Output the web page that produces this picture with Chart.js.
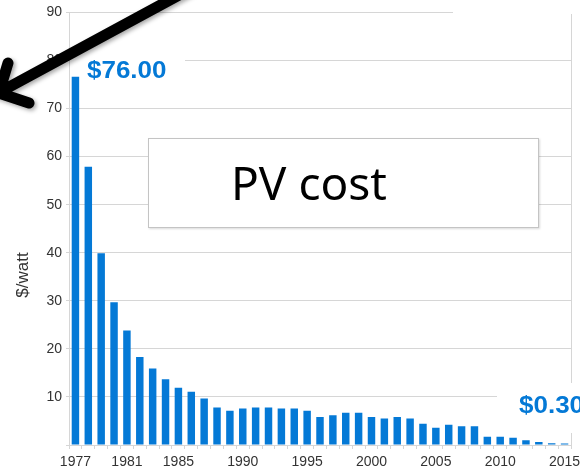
<!DOCTYPE html>
<html>
<head>
<meta charset="utf-8">
<script src="https://cdn.jsdelivr.net/npm/chart.js@4/dist/chart.umd.min.js"></script>
<style>
  html, body { margin: 0; padding: 0; background: #fff; }
  #wrap { width: 580px; height: 470px; position: relative; }
</style>
</head>
<body>
<div id="wrap"><canvas id="pv"></canvas></div>
<script>
// PV module cost, $/watt
const years = ['1977', '1978', '1979', '1980', '1981', '1982', '1983', '1984', '1985', '1986',
    '1987', '1988', '1989', '1990', '1991', '1992', '1993', '1994', '1995', '1996',
    '1997', '1998', '1999', '2000', '2001', '2002', '2003', '2004', '2005', '2006',
    '2007', '2008', '2009', '2010', '2011', '2012', '2013', '2014', '2015'];
const costs = [76.6, 57.9, 39.9, 29.7, 23.8, 18.3, 15.9, 13.7, 11.9, 11.1,
    9.7, 7.8, 7.1, 7.6, 7.8, 7.8, 7.6, 7.6, 7.1, 5.8,
    6.2, 6.7, 6.7, 5.8, 5.5, 5.8, 5.5, 4.4, 3.6, 4.2,
    3.9, 3.9, 1.7, 1.7, 1.5, 1.0, 0.6, 0.35, 0.3];
const shownYears = ['1977', '1981', '1985', '1990', '1995', '2000', '2005', '2010', '2015'];
const yTicks = [10, 20, 30, 40, 50, 60, 70, 80, 90];

const yTitle = '$/watt';
const firstLabel = '$76.00';
const lastLabel = '$0.30';
const boxTitle = 'PV cost';

const BLUE = '#0479d6';
const GRID = '#d6d6d6';
const FONT = '"Liberation Sans", Arial, sans-serif';

// extra drawing: axis title, right border, masks, label text, text box, arrow
const decorations = {
    id: 'decorations',
    afterDraw(chart) {
        const ctx = chart.ctx;
        const area = chart.chartArea;
        ctx.save();

        // y axis title
        ctx.save();
        ctx.translate(23, 275);
        ctx.rotate(-Math.PI / 2);
        ctx.fillStyle = '#333';
        ctx.font = '17px ' + FONT;
        ctx.textAlign = 'center';
        ctx.textBaseline = 'middle';
        ctx.fillText(yTitle, 0, 0);
        ctx.restore();

        // right border of plot area
        ctx.strokeStyle = GRID;
        ctx.lineWidth = 1;
        ctx.beginPath();
        ctx.moveTo(Math.round(area.right) + 0.5, area.top);
        ctx.lineTo(Math.round(area.right) + 0.5, area.bottom);
        ctx.stroke();

        // white patches behind the value labels
        ctx.fillStyle = '#fff';
        ctx.fillRect(70, 48, 115, 22);
        ctx.fillRect(453, 0, 127, 14);
        ctx.fillRect(497, 383, 83, 50);

        // value labels
        ctx.fillStyle = BLUE;
        ctx.font = 'bold 23px ' + FONT;
        ctx.textBaseline = 'alphabetic';
        ctx.textAlign = 'left';
        ctx.save();
        ctx.translate(87, 78);
        ctx.scale(1.13, 1);
        ctx.fillText(firstLabel, 0, 0);
        ctx.restore();
        ctx.save();
        ctx.translate(519, 413);
        ctx.scale(1.13, 1);
        ctx.fillText(lastLabel, 0, 0);
        ctx.restore();

        // text box
        ctx.save();
        ctx.shadowColor = 'rgba(0,0,0,0.15)';
        ctx.shadowBlur = 2;
        ctx.shadowOffsetX = 1;
        ctx.shadowOffsetY = 1;
        ctx.fillStyle = '#fff';
        ctx.fillRect(148, 138, 391, 90);
        ctx.restore();
        ctx.strokeStyle = '#c4c4c4';
        ctx.lineWidth = 1;
        ctx.strokeRect(148.5, 138.5, 390, 89);
        ctx.fillStyle = '#000';
        ctx.font = '46px "Noto Sans", "Open Sans", sans-serif';
        ctx.fillText(boxTitle, 231, 200);

        // arrow
        ctx.save();
        ctx.shadowColor = 'rgba(0,0,0,0.35)';
        ctx.shadowBlur = 4;
        ctx.shadowOffsetX = 2;
        ctx.shadowOffsetY = 2;
        ctx.strokeStyle = '#000';
        ctx.lineWidth = 11;
        ctx.lineCap = 'round';
        ctx.lineJoin = 'round';
        ctx.beginPath();
        ctx.moveTo(192, -12);
        ctx.lineTo(0, 92);
        ctx.moveTo(8, 63);
        ctx.lineTo(-1, 93);
        ctx.lineTo(29, 103);
        ctx.stroke();
        ctx.restore();

        ctx.restore();
    }
};

const chart = new Chart(document.getElementById('pv').getContext('2d'), {
    type: 'bar',
    data: {
        labels: years,
        datasets: [{
            label: yTitle,
            data: costs,
            backgroundColor: BLUE,
            borderWidth: 0,
            barPercentage: 0.58,
            categoryPercentage: 1
        }]
    },
    options: {
        responsive: true,
        maintainAspectRatio: false,
        animation: false,
        layout: {
            padding: { top: 12, right: 9, bottom: 0, left: 0 }
        },
        plugins: {
            legend: { display: false },
            tooltip: { enabled: false }
        },
        scales: {
            x: {
                afterFit(scale) {
                    scale.height = 25;
                    scale.paddingLeft = 0;
                    scale.paddingRight = 0;
                },
                grid: {
                    display: true,
                    drawOnChartArea: false,
                    drawTicks: true,
                    tickLength: 4,
                    color: GRID
                },
                border: { color: GRID },
                ticks: {
                    autoSkip: false,
                    maxRotation: 0,
                    minRotation: 0,
                    padding: 5,
                    color: '#333',
                    font: { family: FONT, size: 14 },
                    callback: function (value) {
                        const lbl = this.getLabelForValue(value);
                        return shownYears.includes(lbl) ? lbl : '';
                    }
                }
            },
            y: {
                min: 0,
                max: 90,
                afterFit(scale) { scale.width = 69; },
                afterBuildTicks(scale) {
                    scale.ticks = [{ value: 0 }].concat(yTicks.map(v => ({ value: v })));
                },
                grid: {
                    color: GRID,
                    tickLength: 3
                },
                border: { color: GRID },
                ticks: {
                    padding: 4,
                    color: '#333',
                    font: { family: FONT, size: 14 },
                    callback: v => (v === 0 ? '' : v)
                }
            }
        }
    },
    plugins: [decorations]
});
</script>
</body>
</html>
